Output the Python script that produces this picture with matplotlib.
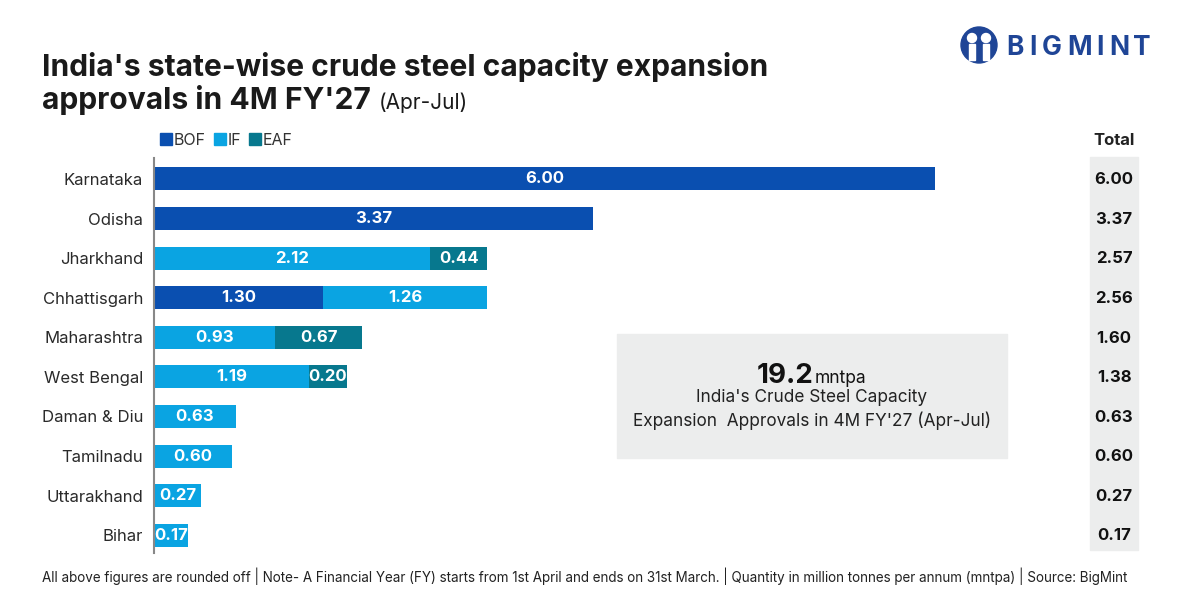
import matplotlib.pyplot as plt
from matplotlib.patches import Patch, Rectangle, Ellipse
import matplotlib.transforms as mtransforms

plt.rcParams['font.family'] = ['Inter', 'DejaVu Sans']

# Data
states = ['Karnataka', 'Odisha', 'Jharkhand', 'Chhattisgarh', 'Maharashtra',
          'West Bengal', 'Daman & Diu', 'Tamilnadu', 'Uttarakhand', 'Bihar']
bof = [6.00, 3.37, 0, 1.30, 0, 0, 0, 0, 0, 0]
if_vals = [0, 0, 2.12, 1.26, 0.93, 1.19, 0.63, 0.60, 0.27, 0.17]
eaf = [0, 0, 0.44, 0, 0.67, 0.20, 0, 0, 0, 0]
totals = [6.00, 3.37, 2.57, 2.56, 1.60, 1.38, 0.63, 0.60, 0.27, 0.17]
series_names = ['BOF', 'IF', 'EAF']
colors = ['#0A4FB0', '#0AA4E2', '#07788E']

fig = plt.figure(figsize=(12, 6), dpi=100)
ax = fig.add_axes([154/1200, 1-553/600, (935-154)/1200, (553-158)/600])
ax.patch.set_visible(False)

y = list(range(len(states)))
left = [0]*len(states)
for vals, col in zip([bof, if_vals, eaf], colors):
    # tiny segments get a little extra room so their label fits (as in the original)
    shown = [v + 0.09 if 0 < v < 0.3 else v for v in vals]
    ax.barh(y, shown, left=left, height=0.58, color=col)
    for i, v in enumerate(vals):
        if v > 0:
            ax.text(left[i] + shown[i]/2, i, f'{v:.2f}', ha='center', va='center',
                    color='white', fontsize=12, fontweight='bold')
    left = [l + s for l, s in zip(left, shown)]

ax.set_xlim(0, 6.0)
ax.set_ylim(9.45, -0.53)
ax.set_yticks(y)
ax.set_yticklabels(states, fontsize=12, color='#2a2a2a')
ax.tick_params(axis='y', length=0, pad=8)
ax.set_xticks([])
for s in ['top', 'right', 'bottom']:
    ax.spines[s].set_visible(False)
ax.spines['left'].set_color('#888888')
ax.spines['left'].set_linewidth(1.5)

# legend
handles = [Patch(color=c) for c in colors]
fig.legend(handles, series_names, loc='center left', bbox_to_anchor=(146/1200, 1-140/600),
           ncol=3, frameon=False, fontsize=11.5, handlelength=0.75, handleheight=0.75,
           handletextpad=0.1, columnspacing=0.5, labelcolor='#333333')

# totals column
fig.patches.append(Rectangle((1090/1200, 1-550/600), 48/1200, 393/600,
                             transform=fig.transFigure, color='#ECEDED', zorder=-1))
fig.text(1114/1200, 1-140/600, 'Total', ha='center', va='center',
         fontsize=12, fontweight='bold', color='#222222')
trans = mtransforms.blended_transform_factory(fig.transFigure, ax.transData)
for i, t in enumerate(totals):
    ax.text(1114/1200, i + 0.02, f'{t:.2f}', transform=trans, ha='center', va='center',
            fontsize=12, fontweight='bold', color='#111111', clip_on=False)

# summary box
fig.patches.append(Rectangle((617/1200, 1-458/600), 390/1200, 124/600,
                             transform=fig.transFigure, color='#ECEDED', zorder=-1))
fig.text(813/1200, 1-383/600, '19.2', ha='right', va='baseline',
         fontsize=20, fontweight='bold', color='#111111')
fig.text(815/1200, 1-383/600, 'mntpa', ha='left', va='baseline',
         fontsize=12.5, color='#111111')
fig.text(812/1200, 1-398/600, "India's Crude Steel Capacity", ha='center', va='center',
         fontsize=12.4, color='#222222')
fig.text(812/1200, 1-421/600, "Expansion  Approvals in 4M FY'27 (Apr-Jul)", ha='center',
         va='center', fontsize=12.4, color='#222222')

# title
fig.text(42/1200, 1-76/600, "India's state-wise crude steel capacity expansion",
         ha='left', va='baseline', fontsize=21.6, fontweight='bold', color='#1a1a1a')
t2 = fig.text(42/1200, 1-109/600, "approvals in 4M FY'27",
              ha='left', va='baseline', fontsize=21.6, fontweight='bold', color='#1a1a1a')
fig.canvas.draw()
bb = t2.get_window_extent()
fig.text((bb.x1 + 8)/1200, 1-109/600, '(Apr-Jul)', ha='left', va='baseline',
         fontsize=15, color='#1a1a1a')

# footer
fig.text(42/1200, 1-576/600,
         'All above figures are rounded off | Note- A Financial Year (FY) starts from 1st April '
         'and ends on 31st March. | Quantity in million tonnes per annum (mntpa) | Source: BigMint',
         ha='left', va='center', fontsize=9.7, color='#222222')

# logo
logo_blue = '#1F4596'
fig.patches.append(Ellipse((979/1200, 1-45/600), 36/1200, 36/600,
                           transform=fig.transFigure, color=logo_blue))
for dx in (-7, 7):
    fig.patches.append(Ellipse(((979+dx)/1200, 1-38/600), 9/1200, 9/600,
                               transform=fig.transFigure, color='white'))
    fig.patches.append(Rectangle(((979+dx-3)/1200, 1-60/600), 6/1200, 16/600,
                                 transform=fig.transFigure, color='white'))
x0 = 1006
for ch, w in zip('BIGMINT', [23, 13, 25, 29, 13, 24, 20]):
    fig.text(x0/1200, 1-48/600, ch, ha='left', va='center', fontsize=19,
             fontweight='bold', color=logo_blue)
    x0 += w

fig.savefig('out.png', dpi=100)
